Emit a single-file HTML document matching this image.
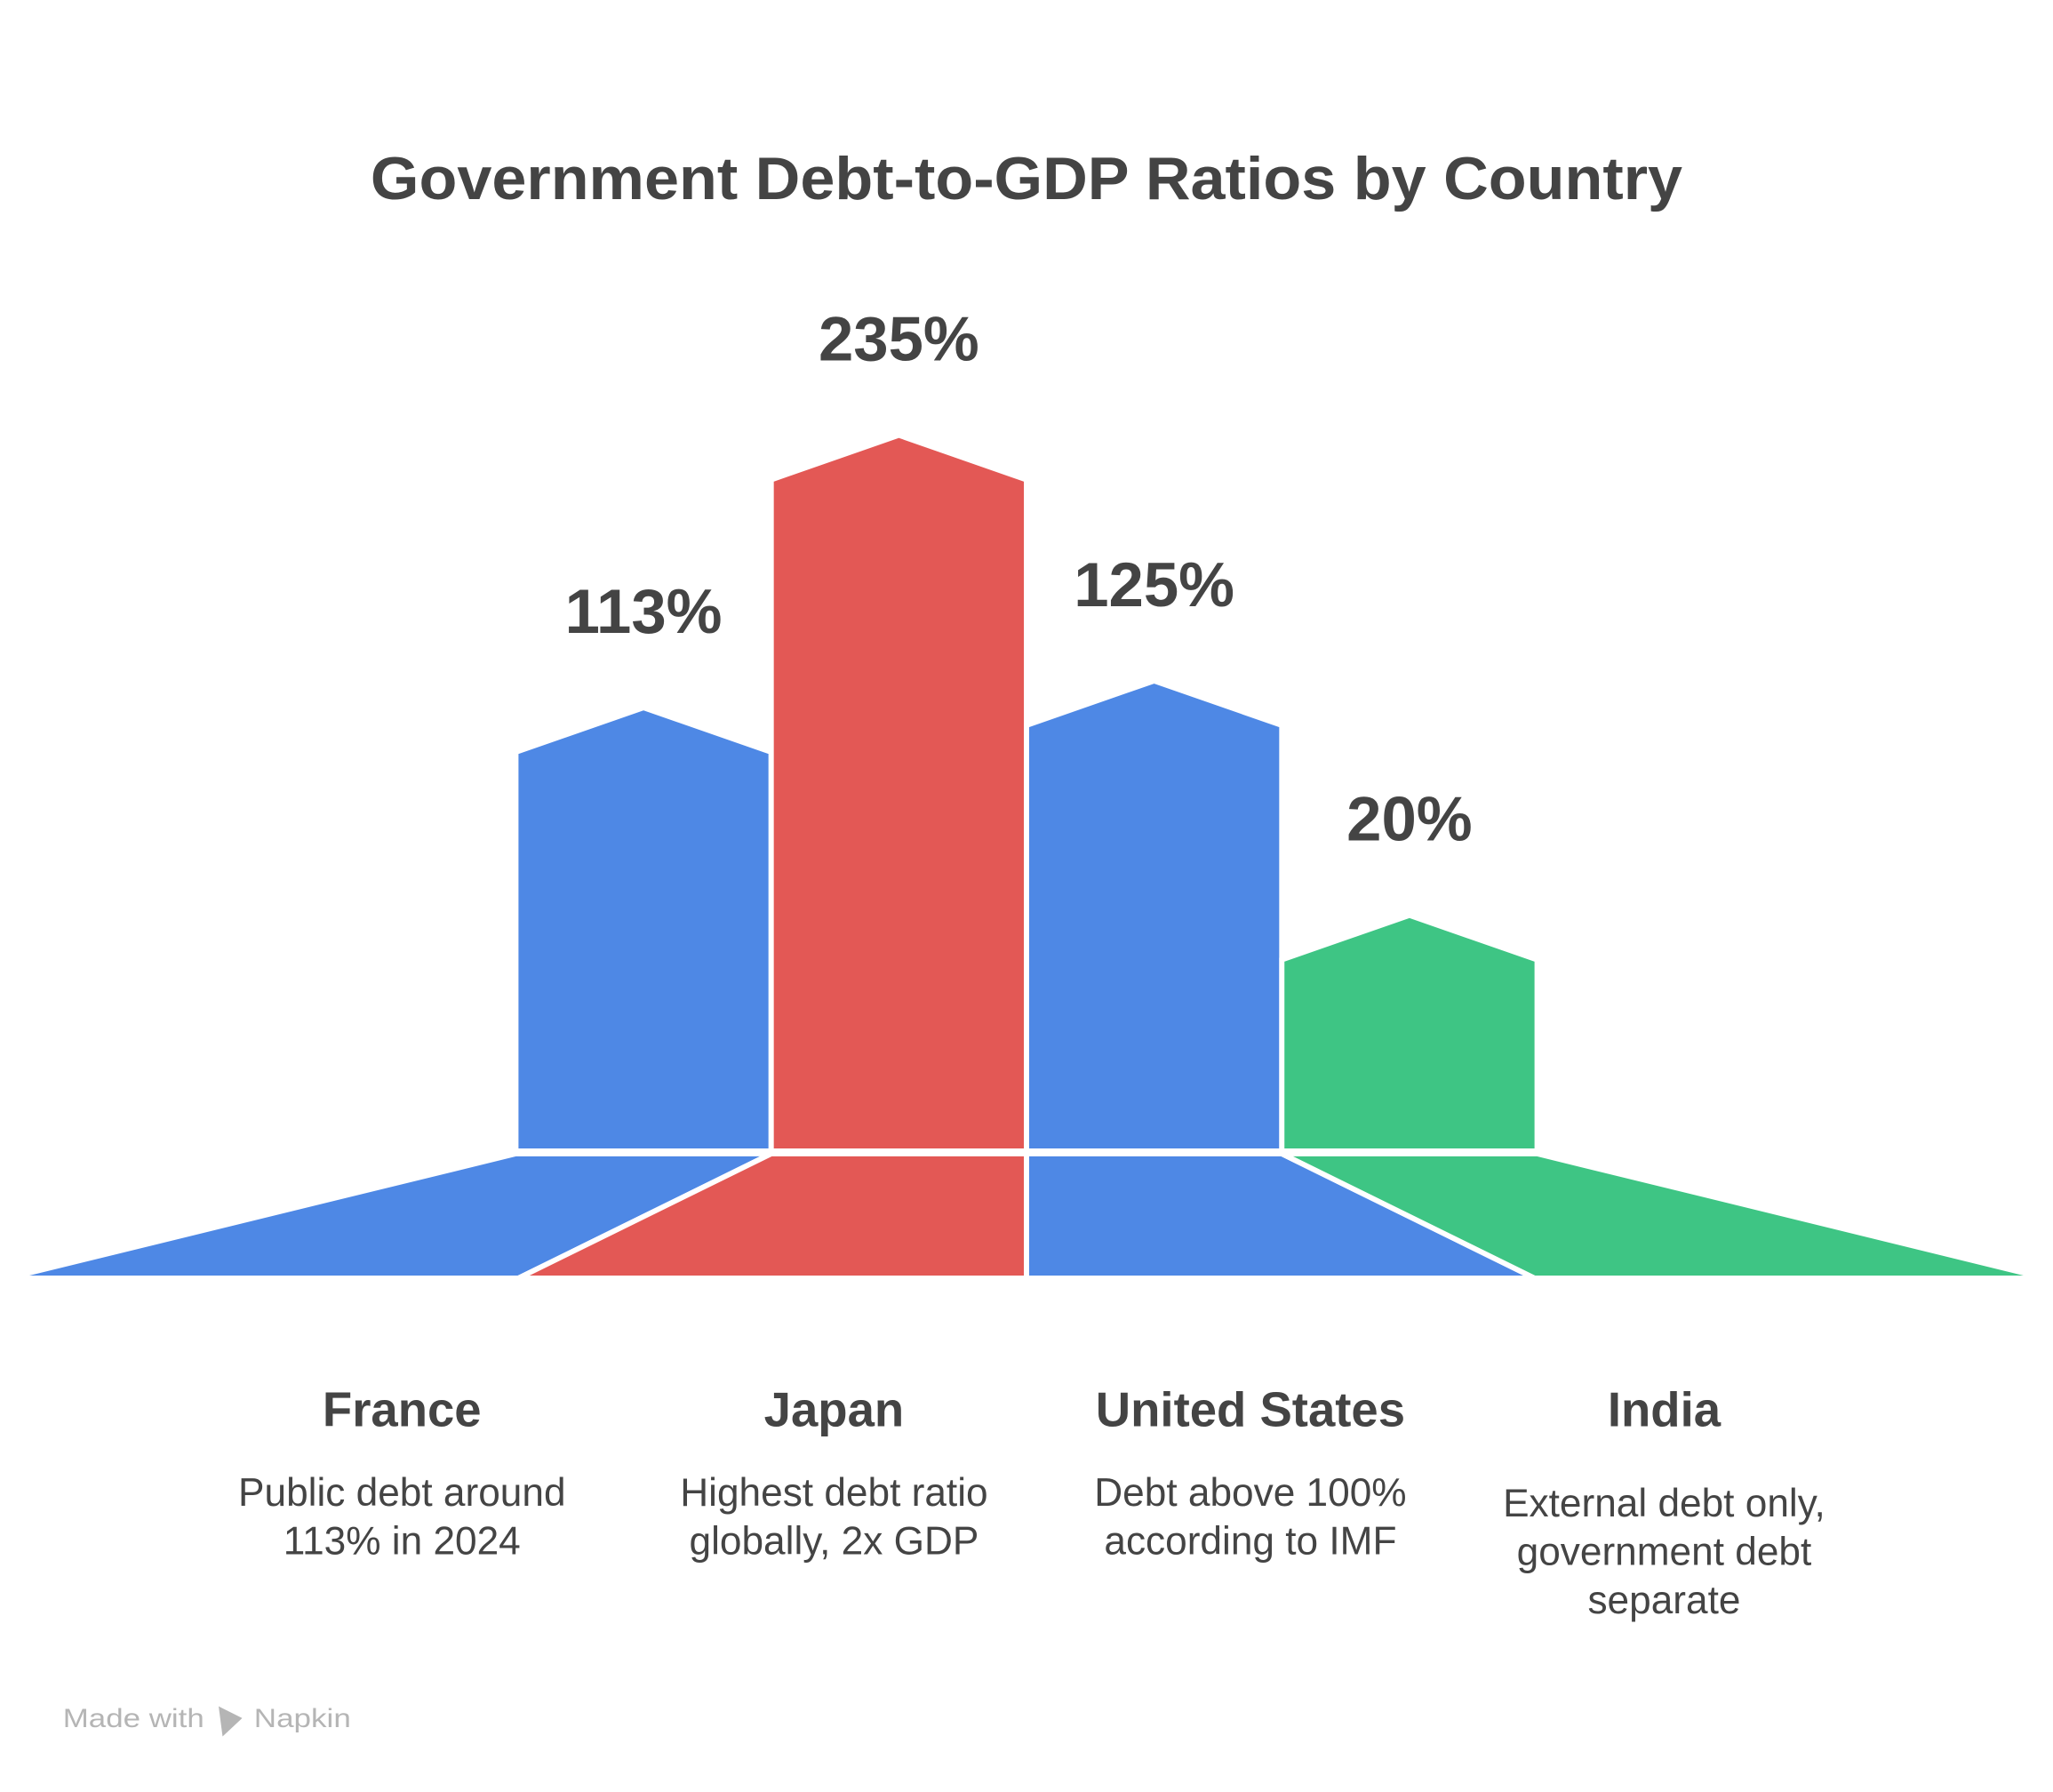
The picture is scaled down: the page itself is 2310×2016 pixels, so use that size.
<!DOCTYPE html>
<html><head><meta charset="utf-8"><style>
html,body{margin:0;padding:0;background:#fff;}
svg{display:block;}
text{font-family:"Liberation Sans",sans-serif;fill:#444;}
</style></head><body>
<svg id="chart" width="2310" height="2016" viewBox="0 0 1568 1368.4" preserveAspectRatio="none" xmlns="http://www.w3.org/2000/svg">
<rect width="1568" height="1368.4" fill="#fff"/>
<text x="784" y="152" text-anchor="middle" font-size="46" font-weight="bold" textLength="1002" lengthAdjust="spacingAndGlyphs">Government Debt-to-GDP Ratios by Country</text>
<g id="bars"></g>
<g id="labels"></g>
<g>
<text x="48" y="1319" font-size="20" style="fill:#b5b5b5" textLength="108" lengthAdjust="spacingAndGlyphs">Made with</text>
<path d="M167 1303 L185 1312 L170 1326 Z" fill="#b5b5b5"/>
<text x="194" y="1319" font-size="20" style="fill:#b5b5b5" textLength="74" lengthAdjust="spacingAndGlyphs">Napkin</text>
</g>
</svg>
<script>
const categories = ["France", "Japan", "United States", "India"];
const values = [113, 235, 125, 20];
const valueLabels = ["113%", "235%", "125%", "20%"];
const descriptions = [["Public debt around", "113% in 2024"], ["Highest debt ratio", "globally, 2x GDP"], ["Debt above 100%", "according to IMF"], ["External debt only,", "government debt", "separate"]];
const colors = ["#4E88E5", "#E35855", "#4E88E5", "#3EC584"];

const NS = "http://www.w3.org/2000/svg";
const baseY = 879, bottomY = 976;
const yScale = v => baseY - (112 + 1.705 * v);
const barX0 = 394, barW = 195;
const bottomXs = [6, 396, 784, 1172, 1562];
const textCenters = [307, 637, 955, 1271];
const barsG = document.getElementById('bars');
const labelsG = document.getElementById('labels');

values.forEach((v, i) => {
  const x0 = barX0 + i * barW, x1 = x0 + barW, cx = (x0 + x1) / 2;
  const top = yScale(v);
  const p = document.createElementNS(NS, 'polygon');
  p.setAttribute('points', `${x0},${baseY} ${x0},${top} ${cx},${top - 34} ${x1},${top} ${x1},${baseY}`);
  p.setAttribute('fill', colors[i]);
  p.setAttribute('stroke', '#fff');
  p.setAttribute('stroke-width', '4');
  
  
  barsG.appendChild(p);
  const b = document.createElementNS(NS, 'polygon');
  b.setAttribute('points', `${x0},${baseY + 2} ${x1},${baseY + 2} ${bottomXs[i + 1]},${bottomY} ${bottomXs[i]},${bottomY}`);
  b.setAttribute('fill', colors[i]);
  b.setAttribute('stroke', '#fff');
  b.setAttribute('stroke-width', '4');
  
  
  barsG.appendChild(b);
  const t = document.createElementNS(NS, 'text');
  t.setAttribute('x', cx);
  t.setAttribute('y', top - 34 - 57);
  t.setAttribute('text-anchor', 'middle');
  t.setAttribute('font-size', '48');
  t.setAttribute('font-weight', 'bold');
  
  
  t.textContent = valueLabels[i];
  labelsG.appendChild(t);
  const n = document.createElementNS(NS, 'text');
  n.setAttribute('x', textCenters[i]);
  n.setAttribute('y', 1089);
  n.setAttribute('text-anchor', 'middle');
  n.setAttribute('font-size', '37');
  n.setAttribute('font-weight', 'bold');
  
  
  n.textContent = categories[i];
  labelsG.appendChild(n);
  const lines = descriptions[i];
  const startY = lines.length > 2 ? 1158 : 1150;
  lines.forEach((ln, j) => {
    const d = document.createElementNS(NS, 'text');
    d.setAttribute('x', textCenters[i]);
    d.setAttribute('y', startY + j * 37);
    d.setAttribute('text-anchor', 'middle');
    d.setAttribute('font-size', '30');
    
    
    d.textContent = ln;
    labelsG.appendChild(d);
  });
});
</script>
</body></html>
